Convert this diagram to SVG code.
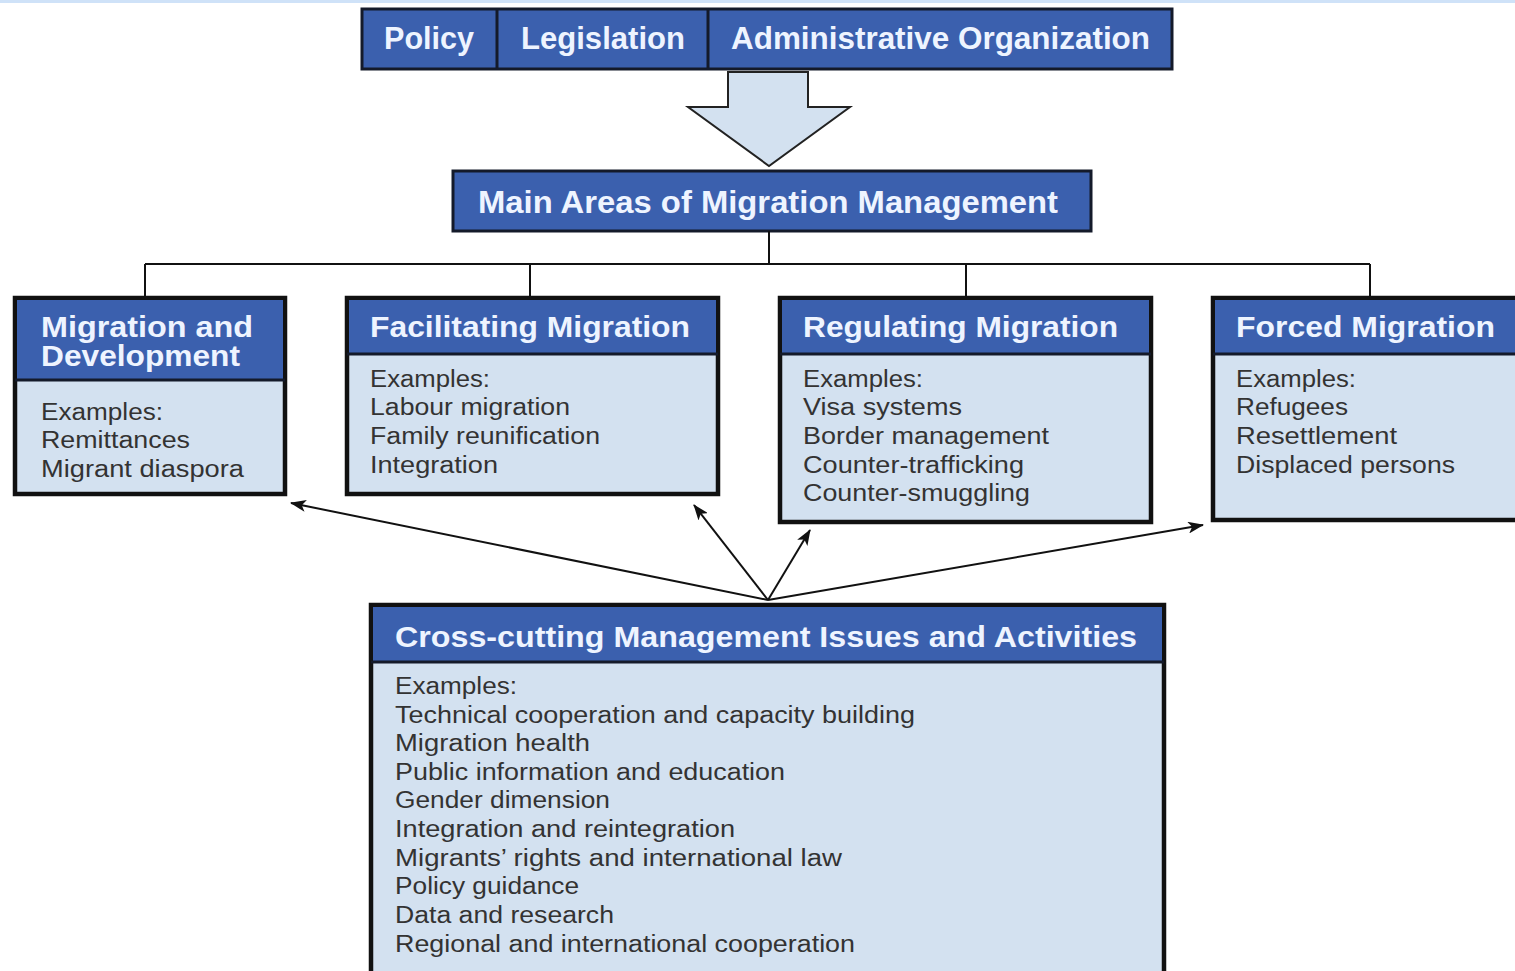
<svg xmlns="http://www.w3.org/2000/svg" width="1515" height="971" viewBox="0 0 1515 971">
<style>
.hdr{fill:#3b60ae;stroke:#141a2a;stroke-width:3}
.body{fill:#d3e1f0;stroke:#111;stroke-width:4.5}
.sep{stroke:#141a2a;stroke-width:3}
.ht{font-family:"Liberation Sans",Arial,sans-serif;font-weight:bold;font-size:29px;fill:#eef4ff}
.tt{font-family:"Liberation Sans",Arial,sans-serif;font-weight:bold;font-size:31px;fill:#eef4ff}
.bt{font-family:"Liberation Sans",Arial,sans-serif;font-size:23px;fill:#333}
.ln{stroke:#111;stroke-width:2;fill:none}
</style>
<defs>
<marker id="ah" viewBox="0 0 16 12" refX="15" refY="6" markerWidth="16" markerHeight="12" orient="auto" markerUnits="userSpaceOnUse">
<path d="M0,0 L16,6 L0,12 L4,6 z" fill="#111"/>
</marker>
</defs>
<rect width="1515" height="971" fill="#fff"/>
<rect x="0" y="0" width="1515" height="3" fill="#cfe2f8"/>

<g id="top-bar">
<rect x="362" y="9" width="810" height="60" class="hdr"/>
<line x1="497" y1="9" x2="497" y2="69" class="sep"/>
<line x1="708" y1="9" x2="708" y2="69" class="sep"/>
<text x="384" y="49" class="tt" textLength="90" lengthAdjust="spacingAndGlyphs">Policy</text>
<text x="521" y="49" class="tt" textLength="164" lengthAdjust="spacingAndGlyphs">Legislation</text>
<text x="731" y="49" class="tt" textLength="419" lengthAdjust="spacingAndGlyphs">Administrative Organization</text>
</g>

<g id="big-arrow">
<path d="M728,72 L808,72 L808,107 L850,107 L769,166 L688,107 L728,107 Z" fill="#d3e1f0" stroke="#222" stroke-width="2"/>
</g>

<g id="main-areas">
<rect x="453" y="171" width="638" height="60" class="hdr"/>
<text x="478" y="213" class="tt" textLength="580" lengthAdjust="spacingAndGlyphs">Main Areas of Migration Management</text>
</g>

<g id="connectors">
<polyline points="769,231 769,264" class="ln"/>
<polyline points="145,264 1370,264" class="ln"/>
<line x1="145" y1="264" x2="145" y2="298" class="ln"/>
<line x1="530" y1="264" x2="530" y2="298" class="ln"/>
<line x1="966" y1="264" x2="966" y2="298" class="ln"/>
<line x1="1370" y1="264" x2="1370" y2="298" class="ln"/>
<line x1="768" y1="600" x2="291" y2="503" class="ln" marker-end="url(#ah)"/>
<line x1="768" y1="600" x2="694" y2="505" class="ln" marker-end="url(#ah)"/>
<line x1="768" y1="600" x2="810" y2="530" class="ln" marker-end="url(#ah)"/>
<line x1="768" y1="600" x2="1203" y2="525" class="ln" marker-end="url(#ah)"/>
</g>

<g id="migration-development">
<rect x="15" y="298" width="270" height="196" class="body"/>
<rect x="17" y="300" width="266" height="80" fill="#3b60ae"/>
<line x1="15" y1="380" x2="285" y2="380" class="sep"/>
<text x="41" y="337" class="ht" textLength="212" lengthAdjust="spacingAndGlyphs">Migration and</text>
<text x="41" y="366" class="ht" textLength="199" lengthAdjust="spacingAndGlyphs">Development</text>
<text x="41" y="420" class="bt" textLength="122" lengthAdjust="spacingAndGlyphs">Examples:</text>
<text x="41" y="448" class="bt" textLength="149" lengthAdjust="spacingAndGlyphs">Remittances</text>
<text x="41" y="477" class="bt" textLength="203" lengthAdjust="spacingAndGlyphs">Migrant diaspora</text>
</g>

<g id="facilitating-migration">
<rect x="347" y="298" width="371" height="196" class="body"/>
<rect x="349" y="300" width="367" height="54" fill="#3b60ae"/>
<line x1="347" y1="354" x2="718" y2="354" class="sep"/>
<text x="370" y="337" class="ht" textLength="320" lengthAdjust="spacingAndGlyphs">Facilitating Migration</text>
<text x="370" y="387" class="bt" textLength="120" lengthAdjust="spacingAndGlyphs">Examples:</text>
<text x="370" y="415" class="bt" textLength="200" lengthAdjust="spacingAndGlyphs">Labour migration</text>
<text x="370" y="444" class="bt" textLength="230" lengthAdjust="spacingAndGlyphs">Family reunification</text>
<text x="370" y="473" class="bt" textLength="128" lengthAdjust="spacingAndGlyphs">Integration</text>
</g>

<g id="regulating-migration">
<rect x="780" y="298" width="371" height="224" class="body"/>
<rect x="782" y="300" width="367" height="54" fill="#3b60ae"/>
<line x1="780" y1="354" x2="1151" y2="354" class="sep"/>
<text x="803" y="337" class="ht" textLength="315" lengthAdjust="spacingAndGlyphs">Regulating Migration</text>
<text x="803" y="387" class="bt" textLength="120" lengthAdjust="spacingAndGlyphs">Examples:</text>
<text x="803" y="415" class="bt" textLength="159" lengthAdjust="spacingAndGlyphs">Visa systems</text>
<text x="803" y="444" class="bt" textLength="246" lengthAdjust="spacingAndGlyphs">Border management</text>
<text x="803" y="473" class="bt" textLength="221" lengthAdjust="spacingAndGlyphs">Counter-trafficking</text>
<text x="803" y="501" class="bt" textLength="227" lengthAdjust="spacingAndGlyphs">Counter-smuggling</text>
</g>

<g id="forced-migration">
<rect x="1213" y="298" width="310" height="222" class="body"/>
<rect x="1215" y="300" width="306" height="54" fill="#3b60ae"/>
<line x1="1213" y1="354" x2="1515" y2="354" class="sep"/>
<text x="1236" y="337" class="ht" textLength="259" lengthAdjust="spacingAndGlyphs">Forced Migration</text>
<text x="1236" y="387" class="bt" textLength="120" lengthAdjust="spacingAndGlyphs">Examples:</text>
<text x="1236" y="415" class="bt" textLength="112" lengthAdjust="spacingAndGlyphs">Refugees</text>
<text x="1236" y="444" class="bt" textLength="161" lengthAdjust="spacingAndGlyphs">Resettlement</text>
<text x="1236" y="473" class="bt" textLength="219" lengthAdjust="spacingAndGlyphs">Displaced persons</text>
</g>

<g id="cross-cutting">
<rect x="371" y="605" width="793" height="380" class="body"/>
<rect x="373" y="607" width="789" height="55" fill="#3b60ae"/>
<line x1="371" y1="662" x2="1164" y2="662" class="sep"/>
<text x="395" y="647" class="ht" textLength="742" lengthAdjust="spacingAndGlyphs">Cross-cutting Management Issues and Activities</text>
<text x="395" y="694" class="bt" textLength="122" lengthAdjust="spacingAndGlyphs">Examples:</text>
<text x="395" y="723" class="bt" textLength="520" lengthAdjust="spacingAndGlyphs">Technical cooperation and capacity building</text>
<text x="395" y="751" class="bt" textLength="195" lengthAdjust="spacingAndGlyphs">Migration health</text>
<text x="395" y="780" class="bt" textLength="390" lengthAdjust="spacingAndGlyphs">Public information and education</text>
<text x="395" y="808" class="bt" textLength="215" lengthAdjust="spacingAndGlyphs">Gender dimension</text>
<text x="395" y="837" class="bt" textLength="340" lengthAdjust="spacingAndGlyphs">Integration and reintegration</text>
<text x="395" y="866" class="bt" textLength="447" lengthAdjust="spacingAndGlyphs">Migrants’ rights and international law</text>
<text x="395" y="894" class="bt" textLength="184" lengthAdjust="spacingAndGlyphs">Policy guidance</text>
<text x="395" y="923" class="bt" textLength="219" lengthAdjust="spacingAndGlyphs">Data and research</text>
<text x="395" y="952" class="bt" textLength="460" lengthAdjust="spacingAndGlyphs">Regional and international cooperation</text>
</g>
</svg>
